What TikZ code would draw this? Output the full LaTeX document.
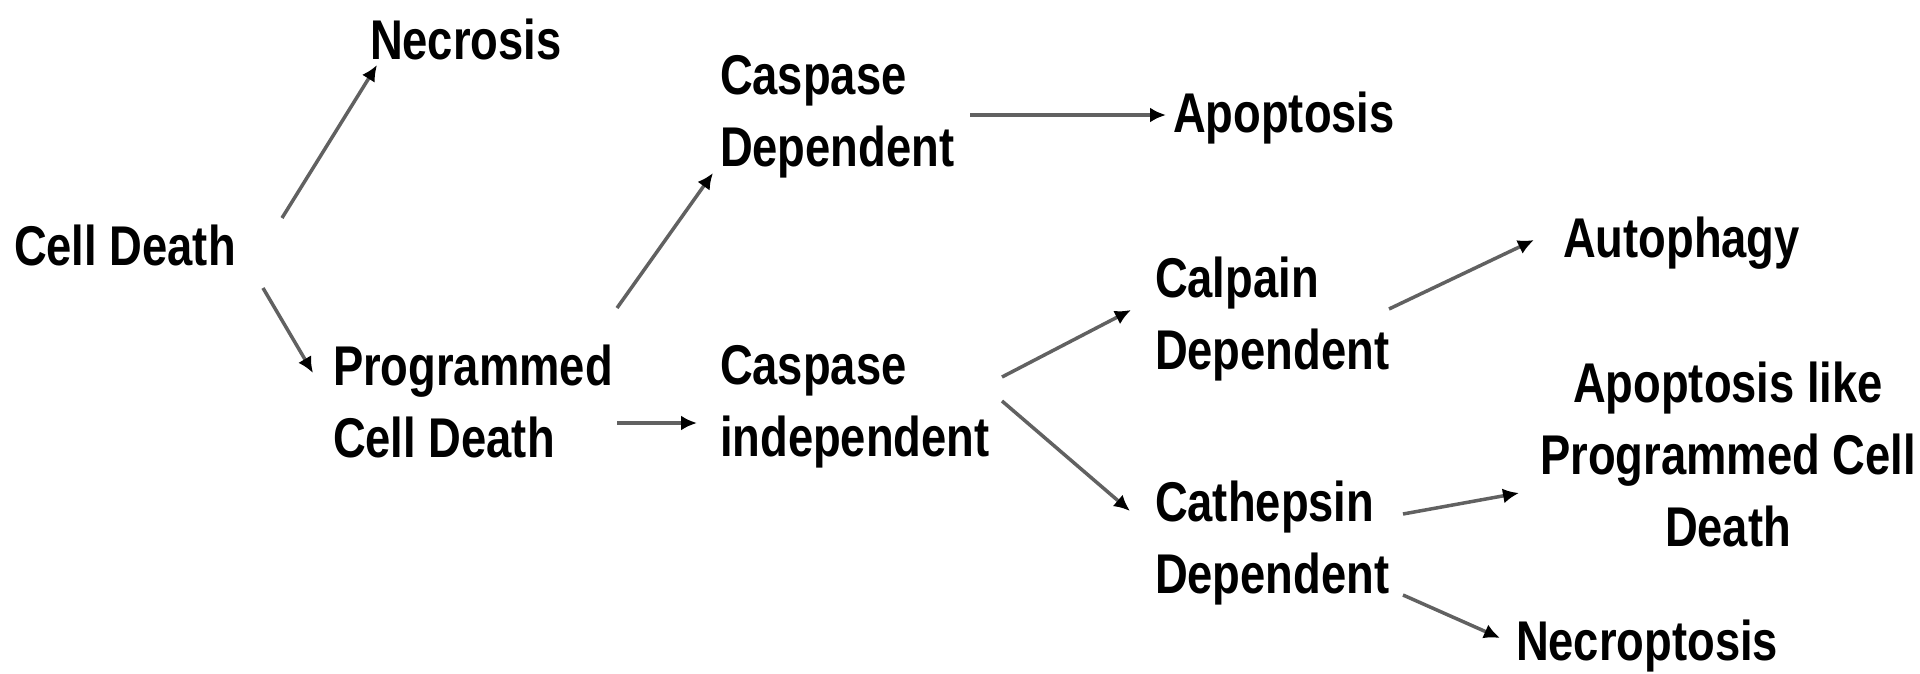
\documentclass[tikz,border=0pt]{standalone}
\usepackage{fontspec}
\newfontfamily\lab{Liberation Sans}[FakeStretch=0.81]
\usetikzlibrary{arrows.meta,calc}
\tikzset{
  lbl/.style={inner sep=0pt, outer sep=0pt, font={\lab\bfseries\fontsize{56}{72}\selectfont}},
  arr/.style={line width=3.5pt, draw=black!62, -{Latex[length=16pt,width=15pt,black]}}
}
\begin{document}
\begin{tikzpicture}[x=1pt,y=-1pt]
\path[use as bounding box, fill=white] (0,0) rectangle (1920,673);
% nodes
\node[lbl, anchor=base west] (cell) at (14,265) {Cell Death};
\node[lbl, anchor=base west] (nec) at (370,59) {Necrosis};
\node[lbl, anchor=north west, align=left] (pcd) at (333,345) {Programmed\\Cell Death};
\node[lbl, anchor=north west, align=left] (csd) at (720,55) {Caspase\\Dependent};
\node[lbl, anchor=north west, align=left] (ci) at (720,345) {Caspase\\independent};
\node[lbl, anchor=base west] (apo) at (1173,132) {Apoptosis};
\node[lbl, anchor=north west, align=left] (cal) at (1155,257) {Calpain\\Dependent};
\node[lbl, anchor=north west, align=left] (cat) at (1155,481) {Cathepsin\\Dependent};
\node[lbl, anchor=base west] (aut) at (1563,257) {Autophagy};
\node[lbl, anchor=north, align=center] (apl) at (1728,362) {Apoptosis like\\Programmed Cell\\Death};
\node[lbl, anchor=base west] (necro) at (1516,660) {Necroptosis};
% connectors
\draw[arr] ($(cell.base west)+(268,-47)$) -- ($(nec.base west)+(7,6)$);
\draw[arr] ($(cell.base west)+(249,23)$) -- ($(pcd.north west)+(-20,28)$);
\draw[arr] ($(pcd.north west)+(284,-37)$) -- ($(csd.north west)+(-7,118)$);
\draw[arr] ($(pcd.north west)+(284,78)$) -- ($(ci.north west)+(-23,78)$);
\draw[arr] ($(csd.north west)+(250,60)$) -- ($(apo.base west)+(-7,-17)$);
\draw[arr] ($(ci.north west)+(282,32)$) -- ($(cal.north west)+(-24,53)$);
\draw[arr] ($(ci.north west)+(282,56)$) -- ($(cat.north west)+(-25,30)$);
\draw[arr] ($(cal.north west)+(234,52)$) -- ($(aut.base west)+(-29,-17)$);
\draw[arr] ($(cat.north west)+(248,33)$) -- ($(apl.north)+(-209,131)$);
\draw[arr] ($(cat.north west)+(248,114)$) -- ($(necro.base west)+(-16,-22)$);
\end{tikzpicture}
\end{document}
